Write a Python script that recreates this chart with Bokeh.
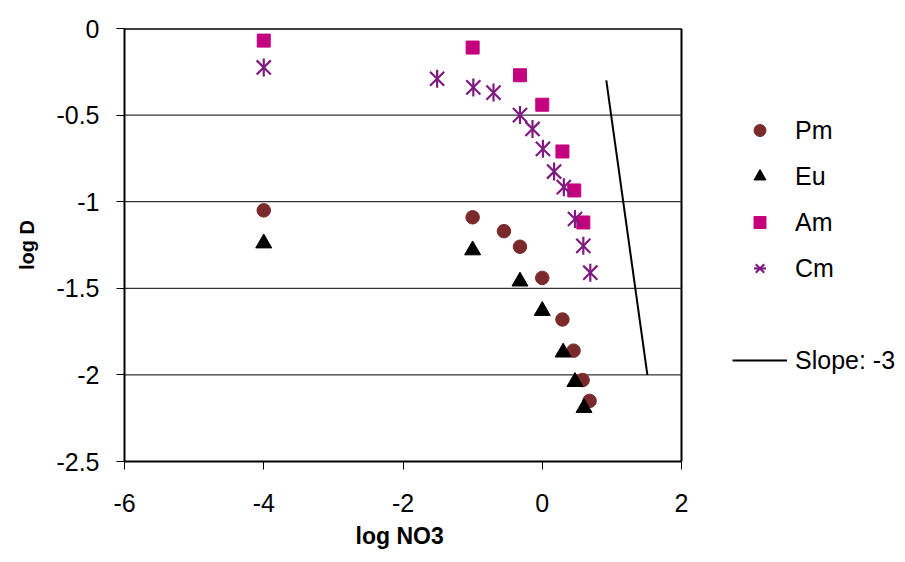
from bokeh.plotting import figure
from bokeh.models import (Range1d, FixedTicker, NumeralTickFormatter, Legend, LegendItem,
                          Span, Title)
from bokeh.embed import file_html
from bokeh.resources import INLINE
import math

# ---- data ----
pm_x = [-4.0, -1.0, -0.55, -0.32, 0.0, 0.29, 0.45, 0.58, 0.68]
pm_y = [-1.05, -1.09, -1.17, -1.26, -1.44, -1.68, -1.86, -2.03, -2.15]

eu_x = [-4.0, -1.0, -0.32, 0.0, 0.30, 0.47, 0.60]
eu_y = [-1.24, -1.28, -1.46, -1.63, -1.87, -2.04, -2.19]

am_x = [-4.0, -1.0, -0.32, 0.0, 0.29, 0.46, 0.59]
am_y = [-0.07, -0.11, -0.27, -0.44, -0.71, -0.935, -1.12]

cm_x = [-4.0, -1.51, -0.99, -0.70, -0.32, -0.14, 0.01, 0.17, 0.31, 0.47, 0.59, 0.69]
cm_y = [-0.225, -0.29, -0.34, -0.37, -0.50, -0.58, -0.695, -0.826, -0.916, -1.10, -1.255, -1.41]

slope_x = [0.92, 1.51]
slope_y = [-0.30, -2.00]

x_ticks = [-6, -4, -2, 0, 2]
y_ticks = [0, -0.5, -1, -1.5, -2, -2.5]
X_MIN, X_MAX = -6, 2
Y_MIN, Y_MAX = -2.5, 0

FONT = "Liberation Sans"
PM_COLOR = "#7A2A2A"
EU_COLOR = "#000000"
AM_COLOR = "#C4007E"
CM_COLOR = "#7F1A7F"

# The frame is widened to the right edge so that the legend (drawn inside the
# frame) is not clipped; axis, grid lines and a right border stop at x = 2.
LEFT, TOP, BOTTOM = 124, 28, 101
FRAME_W = 557
PX_PER_UNIT = FRAME_W / (X_MAX - X_MIN)
x_end = X_MIN + (905 - LEFT) / PX_PER_UNIT

p = figure(width=905, height=562, output_backend="svg", toolbar_location=None,
           x_range=Range1d(X_MIN, x_end), y_range=Range1d(Y_MIN, Y_MAX),
           min_border_left=LEFT, min_border_right=0, min_border_top=TOP,
           min_border_bottom=BOTTOM)
p.background_fill_color = "white"
p.border_fill_color = "white"
p.outline_line_color = None
p.xgrid.visible = False
p.ygrid.visible = False

# horizontal grid lines at the y ticks, limited to the plotting area
n = len(y_ticks)
p.segment(x0=[X_MIN] * n, x1=[X_MAX] * n, y0=y_ticks, y1=y_ticks,
          line_color="black", line_width=1)
# top border (slightly heavier) and right border
p.segment(x0=[X_MIN], x1=[X_MAX], y0=[Y_MAX], y1=[Y_MAX], line_color="black", line_width=2.5)
p.add_layout(Span(location=X_MAX, dimension="height", line_color="black", line_width=2))

for ax in (p.xaxis[0], p.yaxis[0]):
    ax.axis_line_color = "black"
    ax.axis_line_width = 2
    ax.major_tick_line_color = "black"
    ax.major_tick_line_width = 1
    ax.major_tick_in = 0
    ax.major_tick_out = 8
    ax.minor_tick_line_color = None
    ax.major_label_text_font = FONT
    ax.major_label_text_font_size = "25px"
    ax.major_label_text_color = "black"
    ax.axis_label_text_font = FONT
    ax.axis_label_text_font_style = "bold"
    ax.axis_label_text_color = "black"

p.xaxis.bounds = (X_MIN, X_MAX)
p.xaxis.ticker = FixedTicker(ticks=x_ticks)
p.yaxis.ticker = FixedTicker(ticks=y_ticks)
p.xaxis.formatter = NumeralTickFormatter(format="0.[0]")
p.yaxis.formatter = NumeralTickFormatter(format="0.[0]")
p.yaxis.axis_label = "log D"
p.yaxis.axis_label_text_font_size = "20px"
p.xaxis.major_label_standoff = 24
p.yaxis.major_label_standoff = 17
p.yaxis.axis_label_standoff = 15

# x-axis title, positioned under the plotting area (not the widened frame)
xt = Title(text="log NO3", align="left", offset=231, standoff=13,
           text_font=FONT, text_font_size="23px", text_font_style="bold",
           text_color="black")
p.add_layout(xt, "below")

r_pm = p.scatter(pm_x, pm_y, marker="circle", size=13.5, fill_color=PM_COLOR, line_color=PM_COLOR)
r_eu = p.scatter(eu_x, eu_y, marker="triangle", size=16, fill_color=EU_COLOR, line_color=EU_COLOR)
r_am = p.scatter(am_x, am_y, marker="square", size=13, fill_color=AM_COLOR, line_color=AM_COLOR)
r_cm1 = p.scatter(cm_x, cm_y, marker="x", size=20, line_color=CM_COLOR, line_width=2.2)
r_cm2 = p.scatter(cm_x, cm_y, marker="dash", size=18, angle=math.pi / 2, line_color=CM_COLOR, line_width=2.2)
r_sl = p.line(slope_x, slope_y, line_color="black", line_width=2)
# invisible renderer used only as a spacer row in the legend
r_blank = p.line([0, 0], [5, 5], line_alpha=0)

lg = Legend(items=[LegendItem(label="Pm", renderers=[r_pm]),
                   LegendItem(label="Eu", renderers=[r_eu]),
                   LegendItem(label="Am", renderers=[r_am]),
                   LegendItem(label="Cm", renderers=[r_cm1, r_cm2]),
                   LegendItem(label=" ", renderers=[r_blank]),
                   LegendItem(label="Slope: -3", renderers=[r_sl])],
            location=(608, 86))
lg.border_line_color = None
lg.background_fill_alpha = 0
lg.padding = 0
lg.margin = 0
lg.label_text_font = FONT
lg.label_text_font_size = "25px"
lg.label_text_color = "black"
lg.label_height = 30
lg.glyph_width = 55
lg.glyph_height = 30
lg.spacing = 16
lg.label_standoff = 8
p.add_layout(lg, "center")

open("out.html", "w").write(file_html(p, INLINE))
